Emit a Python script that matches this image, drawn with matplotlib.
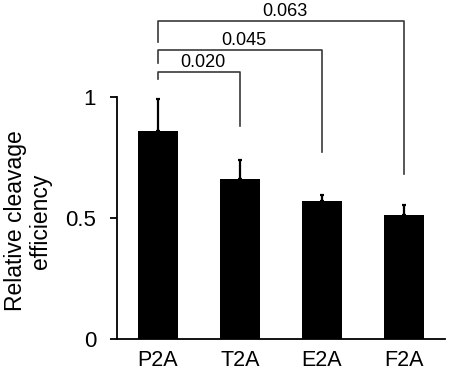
import numpy as np
import matplotlib.pyplot as plt

plt.rcParams['font.family'] = ['Liberation Sans', 'DejaVu Sans']

konstrukti = ["P2A", "T2A", "E2A", "F2A"]
efikasnost = [0.860, 0.661, 0.570, 0.512]
greska = [0.132, 0.079, 0.025, 0.042]

# usporedbe P2A s ostalima
p_oznake = ["0.020", "0.045", "0.063"]
desni = [1, 2, 3]
vrh = [1.103, 1.194, 1.314]
dno_lijevo = [1.074, 1.140, 1.227]
dno_desno = [0.880, 0.773, 0.682]

fig = plt.figure(figsize=(4.6, 3.77), dpi=100)
ax = fig.add_axes([117 / 460, 38 / 377, 328 / 460, 1.4 * 242 / 377])

x = np.arange(len(konstrukti))
ax.bar(x, efikasnost, width=0.49, color="black")
ax.errorbar(x, efikasnost, yerr=[np.zeros(len(greska)), greska], fmt="none",
            ecolor="black", elinewidth=1.6, capsize=1.2, capthick=1.6)

for i in range(len(p_oznake)):
    d = desni[i]
    ax.plot([0, 0, d, d], [dno_lijevo[i], vrh[i], vrh[i], dno_desno[i]],
            color="#3a3a3a", lw=1.2, clip_on=False)
    ax.text(d / 2 + 0.05, vrh[i] + 0.004, p_oznake[i], ha="center", va="bottom",
            fontsize=13, clip_on=False)

ax.set_xlim(-0.5, 3.5)
ax.set_ylim(0, 1.4)
ax.set_yticks([0, 0.5, 1])
ax.set_yticklabels(["0", "0.5", "1"])
ax.set_xticks(x)
ax.set_xticklabels(konstrukti)
ax.tick_params(axis="y", length=5, width=1.3, pad=10, labelsize=16)
ax.tick_params(axis="x", length=0, pad=8, labelsize=15.5)

ax.spines["top"].set_visible(False)
ax.spines["right"].set_visible(False)
ax.spines["left"].set_bounds(0, 1)
ax.spines["left"].set_linewidth(1.3)
ax.spines["bottom"].set_linewidth(1.3)

fig.text(28 / 460, 1 - 221 / 377, "Relative cleavage\nefficiency", rotation=90,
         ha="center", va="center", multialignment="center", fontsize=16.5,
         linespacing=1.1)

fig.savefig("out.png", dpi=100)
